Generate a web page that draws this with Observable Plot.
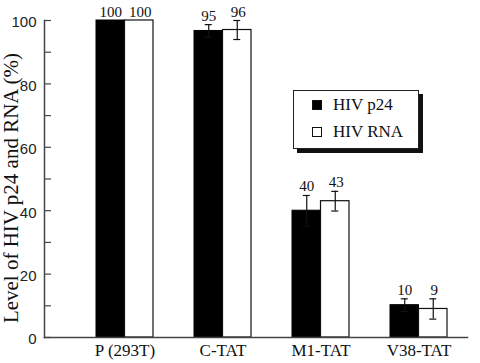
<!DOCTYPE html>
<html>
<head>
<meta charset="utf-8">
<script src="https://cdn.jsdelivr.net/npm/d3@7"></script>
<script src="https://cdn.jsdelivr.net/npm/@observablehq/plot@0.6"></script>
<style>
  html, body { margin: 0; padding: 0; background: white; }
  #wrap { position: relative; width: 480px; height: 363px; overflow: hidden; }
  #ytitle { position: absolute; left: 11px; top: 188px; transform: translate(-50%, -50%) rotate(-90deg);
    font-family: "Liberation Serif", serif; font-size: 21px; line-height: 22px; white-space: nowrap; color: #111; }
  #legend { position: absolute; left: 293px; top: 90px; width: 124px; height: 57px; background: white;
    border: 1px solid #222; box-shadow: 4px 4px 0 #111; font-family: "Liberation Serif", serif; font-size: 17px; color: #111; }
  .item { position: absolute; left: 18px; display: flex; align-items: center; }
  .sw { width: 8px; height: 8px; border: 1px solid #111; margin-right: 11px; }
</style>
</head>
<body>
<div id="wrap"></div>
<script>
const categories = ["P (293T)", "C-TAT", "M1-TAT", "V38-TAT"];
const seriesNames = ["HIV p24", "HIV RNA"];
const p24 = [100, 96.7, 40, 10.2];
const rna = [100, 97, 43, 9];
const p24Err = [0, 2, 4.8, 2];
const rnaErr = [0, 3, 3.1, 3.2];
const p24Labels = ["100", "95", "40", "10"];
const rnaLabels = ["100", "96", "43", "9"];
const yTicks = [0, 20, 40, 60, 80, 100];
const yMinorTicks = [0, 10, 20, 30, 40, 50, 60, 70, 80, 90, 100];
const yTitle = "Level of HIV p24 and RNA (%)";

const rows = categories.map((c, i) => ({
  cat: c, p24: p24[i], rna: rna[i], p24Err: p24Err[i], rnaErr: rnaErr[i],
  p24Label: p24Labels[i], rnaLabel: rnaLabels[i]
}));

const W = 480, H = 363, mL = 44, mR = 13, mT = 20, mB = 26;
const pIn = 0.42, pOut = 0.3615;
const step = (W - mL - mR) / (categories.length - pIn + 2 * pOut);
const bw = step * (1 - pIn);
const half = bw / 2, q = bw / 4, cap = 3.5;

const errRows = rows.filter(d => d.p24Err > 0 || d.rnaErr > 0);

const plot = Plot.plot({
  width: W, height: H,
  marginLeft: mL, marginRight: mR, marginTop: mT, marginBottom: mB,
  style: { fontFamily: "Liberation Serif", fontSize: "16px", background: "white", color: "#111" },
  x: { domain: categories, paddingInner: pIn, paddingOuter: pOut, align: 0.717, axis: null },
  y: { domain: [0, 100], axis: null },
  marks: [
    Plot.barY(rows, { x: "cat", y: "p24", fill: "black", stroke: "black", insetRight: half }),
    Plot.barY(rows, { x: "cat", y: "rna", fill: "white", stroke: "#111", strokeWidth: 1.2, insetLeft: half }),
    // error bars p24
    Plot.ruleX(errRows, { x: "cat", y1: d => d.p24 - d.p24Err, y2: d => d.p24 + d.p24Err, dx: -q, stroke: "#111", strokeWidth: 1.2 }),
    Plot.tickY(errRows, { x: "cat", y: d => d.p24 + d.p24Err, insetLeft: q - cap, insetRight: bw - q - cap, stroke: "#111", strokeWidth: 1.2 }),
    Plot.tickY(errRows, { x: "cat", y: d => d.p24 - d.p24Err, insetLeft: q - cap, insetRight: bw - q - cap, stroke: "#111", strokeWidth: 1.2 }),
    // error bars rna
    Plot.ruleX(errRows, { x: "cat", y1: d => d.rna - d.rnaErr, y2: d => d.rna + d.rnaErr, dx: q, stroke: "#111", strokeWidth: 1.2 }),
    Plot.tickY(errRows, { x: "cat", y: d => d.rna + d.rnaErr, insetLeft: bw - q - cap, insetRight: q - cap, stroke: "#111", strokeWidth: 1.2 }),
    Plot.tickY(errRows, { x: "cat", y: d => d.rna - d.rnaErr, insetLeft: bw - q - cap, insetRight: q - cap, stroke: "#111", strokeWidth: 1.2 }),
    // value labels
    Plot.text(rows, { x: "cat", y: d => d.p24 + d.p24Err, text: "p24Label", dx: -q, lineAnchor: "bottom", dy: -4, fontSize: 15, fill: "#111" }),
    Plot.text(rows, { x: "cat", y: d => d.rna + d.rnaErr, text: "rnaLabel", dx: q + 1, lineAnchor: "bottom", dy: -4, fontSize: 15, fill: "#111" }),
    // axes
    Plot.axisX({ tickSize: 0, tickPadding: 6, fontSize: 17, label: null, fill: "#111" }),
    Plot.tickY(yMinorTicks, { y: d => d, insetRight: W - mL - mR - 7, stroke: "#444", strokeWidth: 1.2 }),
    Plot.axisY({ ticks: yTicks, tickSize: 0, tickPadding: 8, dy: 2, fontFamily: "Liberation Sans", fontSize: 15, label: null, fill: "#222" }),
    Plot.frame({ anchor: "left", stroke: "#444", strokeWidth: 1.5 }),
    Plot.frame({ anchor: "bottom", stroke: "#444", strokeWidth: 1.5 })
  ]
});

const wrap = document.getElementById("wrap");
wrap.appendChild(plot);

const title = document.createElement("div");
title.id = "ytitle";
title.textContent = yTitle;
wrap.appendChild(title);

const legend = document.createElement("div");
legend.id = "legend";
const fills = ["#000", "#fff"];
seriesNames.forEach((name, i) => {
  const item = document.createElement("div");
  item.className = "item";
  item.style.top = (i === 0 ? 4 : 31) + "px";
  const sw = document.createElement("span");
  sw.className = "sw";
  sw.style.background = fills[i];
  const t = document.createElement("span");
  t.textContent = name;
  item.appendChild(sw);
  item.appendChild(t);
  legend.appendChild(item);
});
wrap.appendChild(legend);
</script>
</body>
</html>
